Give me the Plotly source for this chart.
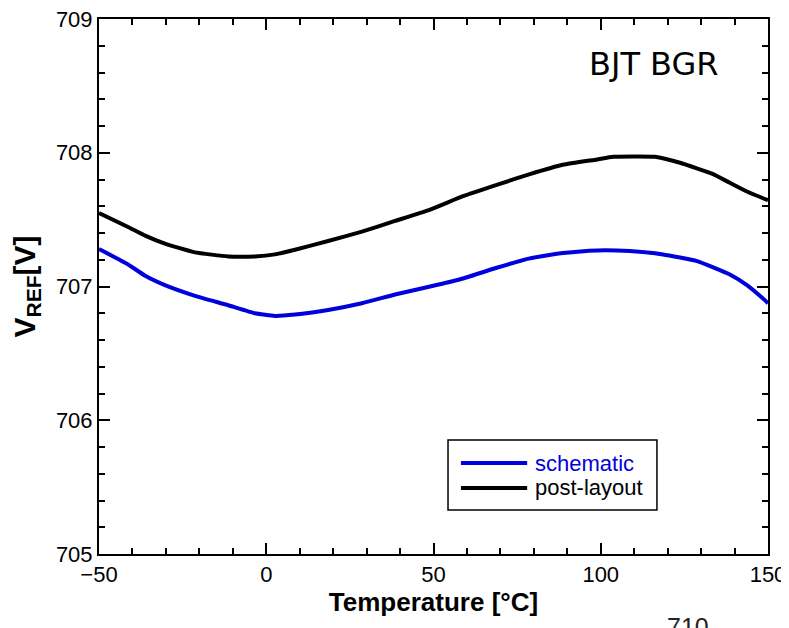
import plotly.graph_objects as go

temp_post = [-50, -41.3, -36.2, -30.3, -21.3, -11.4, -3.4, 2.6, 8.6, 18.5, 28.6, 38.5, 49, 58.8, 68.9,
             78.8, 88.7, 98.9, 103.7, 116.2, 123.7, 133.6, 138.6, 143.7, 150]
v_post = [707.55, 707.445, 707.38, 707.32, 707.255, 707.225, 707.225, 707.24, 707.275, 707.34, 707.41,
          707.49, 707.575, 707.675, 707.76, 707.84, 707.91, 707.95, 707.97, 707.97, 707.925, 707.84,
          707.775, 707.71, 707.645]

temp_sch = [-50, -41.3, -36.2, -30.3, -21.3, -11.4, -3.4, 2.6, 8.6, 18.5, 28.6, 38.5, 49, 58.8, 68.9,
            78.8, 88.7, 98.9, 108.7, 118.6, 128.8, 138.6, 143.7, 148.5, 150]
v_sch = [707.28, 707.165, 707.08, 707.01, 706.93, 706.86, 706.80, 706.78, 706.79, 706.825, 706.875,
         706.94, 707.0, 707.06, 707.14, 707.21, 707.25, 707.27, 707.265, 707.24, 707.19, 707.09,
         707.01, 706.91, 706.875]

series_names = ["schematic", "post-layout"]
series_colors = ["#0000dd", "#000000"]
x_ticks = [-50, 0, 50, 100, 150]

fig = go.Figure()
fig.add_trace(go.Scatter(x=temp_sch, y=v_sch, mode="lines", name=series_names[0],
                         line=dict(color=series_colors[0], width=4, shape="spline", smoothing=0.4)))
fig.add_trace(go.Scatter(x=temp_post, y=v_post, mode="lines", name=series_names[1],
                         line=dict(color=series_colors[1], width=4, shape="spline", smoothing=0.4)))

FONT = "Liberation Sans, Arial, sans-serif"
fig.update_layout(
    width=800, height=620,
    margin=dict(l=91, r=40, t=11, b=74, autoexpand=False),
    plot_bgcolor="white", paper_bgcolor="white",
    font=dict(family=FONT, size=22, color="black"),
    showlegend=False,
)

fig.update_xaxes(range=[-50, 150], tickvals=x_ticks,
                 ticks="inside", ticklen=11, tickwidth=1.5, tickcolor="black",
                 minor=dict(dtick=10, tick0=0, ticks="inside", ticklen=6, tickwidth=1.5, tickcolor="black"),
                 showline=True, linecolor="black", linewidth=2, mirror="allticks",
                 showgrid=False, zeroline=False, automargin=False, ticklabeloverflow="allow",
                 title=dict(text="<b>Temperature [°C]</b>", font=dict(size=26), standoff=2))
fig.update_yaxes(range=[705, 709], dtick=1,
                 ticks="inside", ticklen=11, tickwidth=1.5, tickcolor="black",
                 minor=dict(dtick=0.2, ticks="inside", ticklen=6, tickwidth=1.5, tickcolor="black"),
                 showline=True, linecolor="black", linewidth=2, mirror="allticks",
                 showgrid=False, zeroline=False, automargin=False, ticklabeloverflow="allow",
                 title=dict(text="<b>V<sub>REF</sub>[V]</b>", font=dict(size=30), standoff=16))

# legend box drawn manually (paper coordinates of the plot area)
fig.add_shape(type="rect", xref="paper", yref="paper", x0=0.5217, x1=0.834, y0=0.0822, y1=0.2131,
              line=dict(color="black", width=1.5), fillcolor="white", layer="above")
leg_y = [0.170, 0.1234]
for name, color, yy in zip(series_names, series_colors, leg_y):
    fig.add_shape(type="line", xref="paper", yref="paper", x0=0.541, x1=0.640, y0=yy, y1=yy,
                  line=dict(color=color, width=4), layer="above")
    fig.add_annotation(x=0.6487, y=yy, xref="paper", yref="paper", text=name, showarrow=False,
                       xanchor="left", yanchor="middle", font=dict(size=22, color=color))

fig.add_annotation(x=0.83, y=0.915, xref="paper", yref="paper", text="BJT BGR", showarrow=False,
                   xanchor="center", yanchor="middle",
                   font=dict(family="DejaVu Sans, sans-serif", size=32, color="black"))
fig.add_annotation(x=0.915, y=-0.106, xref="paper", yref="paper", text="710", showarrow=False,
                   yanchor="top", font=dict(size=25, color="#222222"))

fig.write_html("out.html")
